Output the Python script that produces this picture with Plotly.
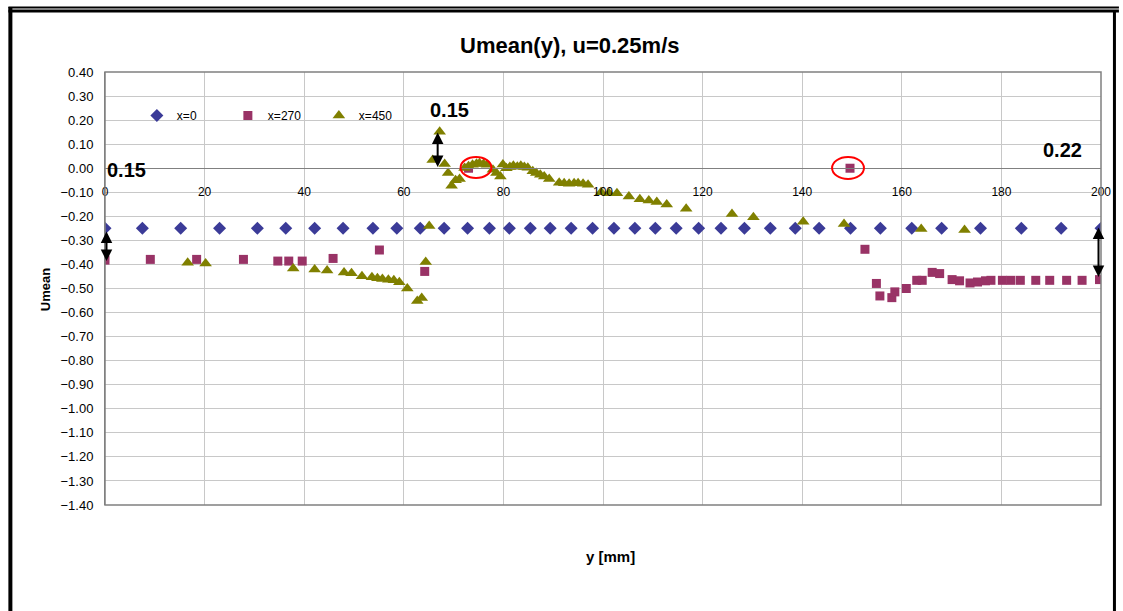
import plotly.graph_objects as go

# ---------------- data ----------------
x0_y = [0, 7.5, 15.2, 23.0, 30.6, 36.3, 42.1, 47.8, 53.8, 58.6, 63.3, 68.1, 72.8, 77.2,
        81.2, 85.4, 89.4, 93.6, 97.9, 102.2, 106.4, 110.5, 114.7, 119.2, 123.7, 128.4,
        133.6, 138.6, 143.4, 149.7, 155.7, 162.0, 168.0, 175.8, 184.0, 192.0, 200.0]
x0_u = [-0.25] * len(x0_y)

x270_y = [0, 9.1, 18.4, 27.8, 34.7, 36.9, 39.6, 45.8, 55.1, 64.2, 73.0, 149.6, 152.6,
          154.9, 155.6, 158.0, 158.6, 160.9, 163.0, 164.1, 166.1, 167.6, 170.1, 171.6,
          173.7, 175.2, 176.8, 177.9, 180.2, 181.9, 183.8, 186.9, 189.7, 193.1, 196.2, 199.7]
x270_u = [-0.382, -0.379, -0.379, -0.379, -0.386, -0.386, -0.386, -0.375, -0.340, -0.429,
          0.000, 0.000, -0.337, -0.479, -0.531, -0.538, -0.514, -0.500, -0.466, -0.466,
          -0.433, -0.438, -0.463, -0.468, -0.477, -0.473, -0.468, -0.466, -0.466, -0.466,
          -0.466, -0.466, -0.466, -0.466, -0.466, -0.463]

x450_y = [16.6, 20.2, 37.8, 42.1, 44.6, 48.0, 49.5, 51.6, 53.6, 54.7, 55.7, 56.9, 58.0,
          59.1, 60.7, 62.7, 63.6, 64.4, 65.1, 65.8, 67.2, 68.2, 68.9, 69.6, 70.4, 71.2,
          72.2, 73.0, 73.8, 74.6, 75.2, 76.0, 76.7, 77.9, 78.6, 79.4, 79.9, 80.6, 81.3,
          82.0, 82.8, 83.5, 84.2, 84.9, 85.9, 86.6, 87.4, 88.2, 89.2, 91.2, 92.2, 93.2,
          94.2, 95.0, 96.0, 97.0, 99.6, 101.2, 102.8, 105.2, 107.4, 109.2, 110.8, 112.8,
          116.7, 125.9, 130.2, 140.2, 148.4, 163.9, 172.6]
x450_u = [-0.393, -0.396, -0.417, -0.421, -0.425, -0.434, -0.437, -0.449, -0.453, -0.457,
          -0.461, -0.464, -0.466, -0.474, -0.500, -0.552, -0.539, -0.390, -0.240, 0.034,
          0.152, 0.018, -0.020, -0.073, -0.050, -0.045, 0.001, 0.008, 0.014, 0.019, 0.021,
          0.018, 0.014, -0.006, -0.020, -0.034, 0.015, 0.000, 0.005, 0.010, 0.006, 0.010,
          0.005, 0.002, -0.013, -0.020, -0.027, -0.034, -0.045, -0.060, -0.062, -0.065,
          -0.062, -0.062, -0.065, -0.069, -0.100, -0.104, -0.104, -0.118, -0.129, -0.134,
          -0.140, -0.151, -0.168, -0.190, -0.204, -0.222, -0.232, -0.253, -0.257]

series_names = ["x=0", "x=270", "x=450"]
title_text = "Umean(y), u=0.25m/s"
x_title = "y [mm]"
y_title = "Umean"
x_ticks = [0, 20, 40, 60, 80, 100, 120, 140, 160, 180, 200]

# ---------------- geometry helpers (pixel -> paper) ----------------
W, H = 1123, 611
L, R, T, B = 105, 18, 72, 106
PW, PH = W - L - R, H - T - B


def px(x):
    return (x - L) / PW


def py(y):
    return (H - B - y) / PH


FONT = "Liberation Sans, Arial, sans-serif"

fig = go.Figure()
fig.add_trace(go.Scatter(x=x0_y, y=x0_u, mode="markers", name=series_names[0],
                         marker=dict(symbol="diamond", size=10, color="#3B3B98")))
fig.add_trace(go.Scatter(x=x270_y, y=x270_u, mode="markers", name=series_names[1],
                         marker=dict(symbol="square", size=9, color="#993366")))
fig.add_trace(go.Scatter(x=x450_y, y=x450_u, mode="markers", name=series_names[2],
                         marker=dict(symbol="triangle-up", size=11, color="#808000")))

grid = "#C8C8C8"
fig.update_xaxes(range=[0, 200], tickvals=x_ticks, showgrid=True, gridcolor=grid,
                 gridwidth=1, zeroline=False, showline=True, linecolor="#808080",
                 linewidth=1, anchor="free", position=1.4 / 1.8,
                 ticks="outside", ticklen=12, tickcolor="rgba(0,0,0,0)",
                 tickfont=dict(family=FONT, size=12, color="black"))
fig.update_yaxes(range=[-1.4, 0.4], dtick=0.1, tick0=0, tickformat=".2f",
                 showgrid=True, gridcolor=grid, gridwidth=1, zeroline=False,
                 showline=True, linecolor="#808080", linewidth=1,
                 ticks="outside", ticklen=8, tickcolor="rgba(0,0,0,0)",
                 tickfont=dict(family=FONT, size=13, color="black"))

shapes = []
# plot area frame
shapes.append(dict(type="rect", xref="paper", yref="paper", x0=0, x1=1, y0=0, y1=1,
                   line=dict(color="#808080", width=1.5), layer="above"))
# white legend box
shapes.append(dict(type="rect", xref="paper", yref="paper", x0=px(126), x1=px(406),
                   y0=py(138), y1=py(83), fillcolor="white", line=dict(width=0),
                   layer="between"))
# outer black frame
shapes.append(dict(type="line", xref="paper", yref="paper", x0=px(8), x1=px(1123),
                   y0=py(7.5), y1=py(7.5), line=dict(color="black", width=2)))
shapes.append(dict(type="line", xref="paper", yref="paper", x0=px(8), x1=px(1123),
                   y0=py(11), y1=py(11), line=dict(color="black", width=3)))
shapes.append(dict(type="line", xref="paper", yref="paper", x0=px(10), x1=px(10),
                   y0=py(7), y1=py(611), line=dict(color="black", width=4)))
shapes.append(dict(type="line", xref="paper", yref="paper", x0=px(1118.5), x1=px(1118.5),
                   y0=py(11), y1=py(611), line=dict(color="black", width=3)))
# red ellipses
shapes.append(dict(type="circle", xref="paper", yref="paper", x0=px(462), x1=px(493),
                   y0=py(178), y1=py(157), line=dict(color="red", width=2)))
shapes.append(dict(type="circle", xref="paper", yref="paper", x0=px(835), x1=px(867),
                   y0=py(179), y1=py(157), line=dict(color="red", width=2)))

ann = []


def label(text, x, y, size, angle=0):
    ann.append(dict(text="<b>" + text + "</b>", xref="paper", yref="paper",
                    x=px(x), y=py(y), xanchor="center", yanchor="middle",
                    showarrow=False, textangle=angle,
                    font=dict(family=FONT, size=size, color="black")))


label(title_text, 571, 45, 22)
label(x_title, 613, 556, 15)
label(y_title, 45, 290, 13, -90)
for lbl, xx, yy in [("0.15", 127, 170), ("0.15", 451, 110), ("0.22", 1066, 150)]:
    label(lbl, xx, yy, 20)
for xx, y0, y1 in [(106.5, 230, 261), (439, 131, 167), (1102.5, 226, 277)]:
    ann.append(dict(text="", xref="paper", yref="paper", axref="pixel", ayref="pixel",
                    x=px(xx), y=py(y1), ax=0, ay=-(y1 - y0), showarrow=True,
                    arrowhead=2, arrowside="end+start", arrowsize=1.15, arrowwidth=2,
                    arrowcolor="black", standoff=0, startstandoff=0))

fig.update_layout(
    width=W, height=H, autosize=False,
    margin=dict(l=L, r=R, t=T, b=B, pad=0),
    paper_bgcolor="white", plot_bgcolor="white",
    shapes=shapes, annotations=ann,
    showlegend=True,
    legend=dict(orientation="h", x=px(137), y=py(101), xanchor="left", yanchor="top",
                bgcolor="rgba(0,0,0,0)", font=dict(family=FONT, size=12, color="black"),
                itemwidth=30, entrywidth=46, entrywidthmode="pixels", tracegroupgap=0),
)

fig.write_html("out.html", config={"displayModeBar": False},
               post_script="document.body.style.margin='0';document.body.style.overflow='hidden';")
